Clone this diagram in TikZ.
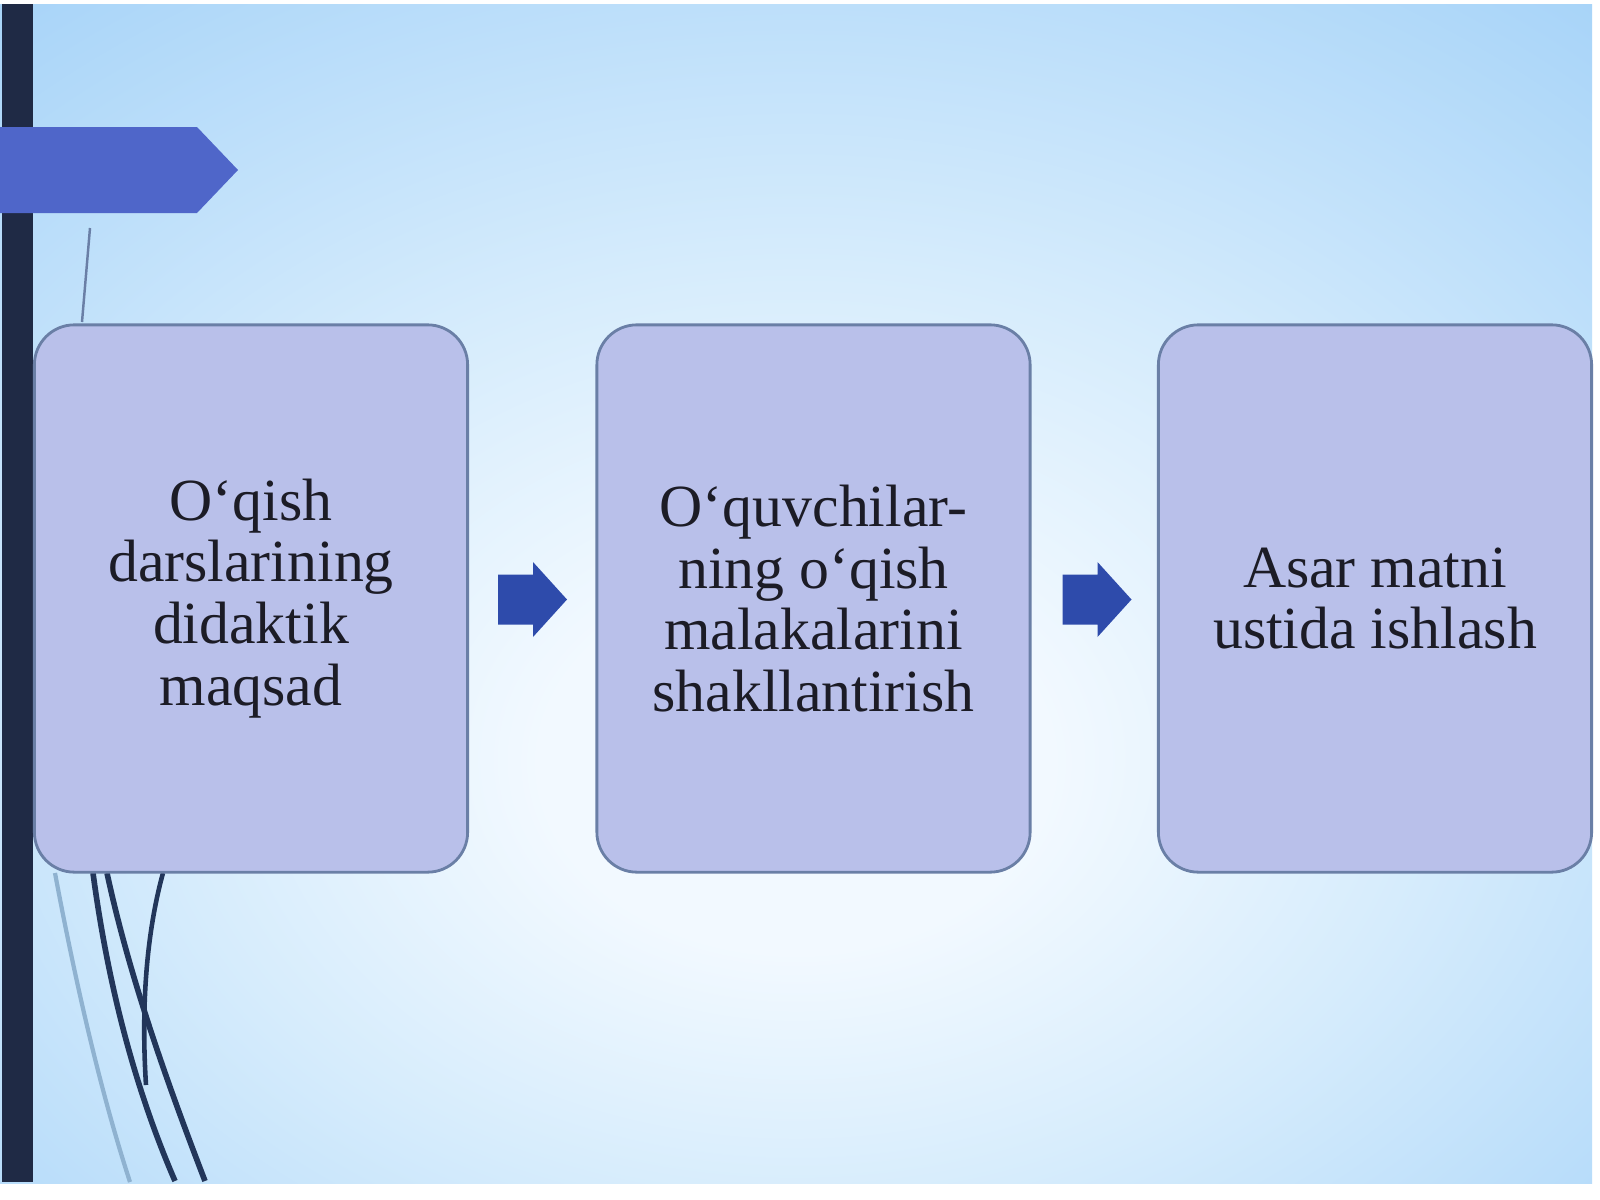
\documentclass[tikz,border=0pt]{standalone}
\usepackage{fontspec}
\setmainfont{Liberation Serif}
\definecolor{bgcenter}{HTML}{F2F9FF}
\definecolor{bgmid}{HTML}{D6ECFC}
\definecolor{bgouter}{HTML}{A4D2F8}
\definecolor{barcol}{HTML}{1F2A45}
\definecolor{tabcol}{HTML}{4F66C9}
\definecolor{boxfill}{HTML}{B9C0EA}
\definecolor{boxline}{HTML}{6A7FA6}
\definecolor{arrcol}{HTML}{2E4BAB}
\definecolor{txtcol}{HTML}{1C1C26}
\definecolor{darkline}{HTML}{22365A}
\definecolor{lightline}{HTML}{8FB2D0}
\pgfdeclareradialshading{bgshade}{\pgfpoint{0bp}{-8bp}}{%
  color(0bp)=(bgcenter); color(8bp)=(bgcenter); color(20bp)=(bgmid);
  color(40bp)=(bgouter); color(80bp)=(bgouter)}
\begin{document}
\begin{tikzpicture}[x=0.01cm,y=-0.01cm,
  stepbox/.style={draw=boxline, line width=0.8pt, fill=boxfill,
    rounded corners=0.4cm, minimum width=4.33cm, minimum height=5.47cm,
    inner sep=0pt, align=center, text=txtcol,
    font=\fontsize{17}{17.6}\selectfont},
  flowpt/.style={inner sep=0pt, minimum size=0pt},
  deco/.style={line width=1.6pt, draw=darkline},
  decolight/.style={line width=1.2pt, draw=lightline}]
\useasboundingbox (0,0) rectangle (1600,1200);
\fill[white] (0,0) rectangle (1600,1200);
\shade[shading=bgshade] (0,4) rectangle (1592,1183);
% left bar and tab
\fill[barcol] (2,4) rectangle (33,1182);
\fill[tabcol] (0,127) -- (197,127) -- (238,170) -- (197,213) -- (0,213) -- cycle;
% thin decorative lines
\draw[line width=0.7pt, draw=boxline] (90,228) -- (82,322);
\draw[decolight] (55,873) .. controls (75,980) and (100,1090) .. (130,1182);
\draw[deco] (93,873) .. controls (110,1000) and (140,1100) .. (175,1181);
\draw[deco] (107,873) .. controls (130,980) and (170,1090) .. (205,1181);
\draw[deco, line width=1.3pt] (163,873) .. controls (150,920) and (140,990) .. (146,1085);
% boxes
\node[stepbox] (b1) at (251,598.5) {O‘qish\\darslarining\\didaktik\\maqsad};
\node[stepbox] (b2) at (813.5,598.5) {O‘quvchilar-\\ning o‘qish\\malakalarini\\shakllantirish};
\node[stepbox] (b3) at (1375,598.5) {Asar matni\\ustida ishlash};
% arrows
\node[flowpt] (a1) at (532.5,599.5) {};
\node[flowpt] (a2) at (1097,599.5) {};
\foreach \a in {a1,a2}{
  \fill[arrcol] ([shift={(-34.5,-25)}]\a.center) -- ([shift={(0.5,-25)}]\a.center)
    -- ([shift={(0.5,-37.5)}]\a.center) -- ([shift={(34.5,0)}]\a.center)
    -- ([shift={(0.5,37.5)}]\a.center) -- ([shift={(0.5,25)}]\a.center)
    -- ([shift={(-34.5,25)}]\a.center) -- cycle;
}
\end{tikzpicture}
\end{document}
